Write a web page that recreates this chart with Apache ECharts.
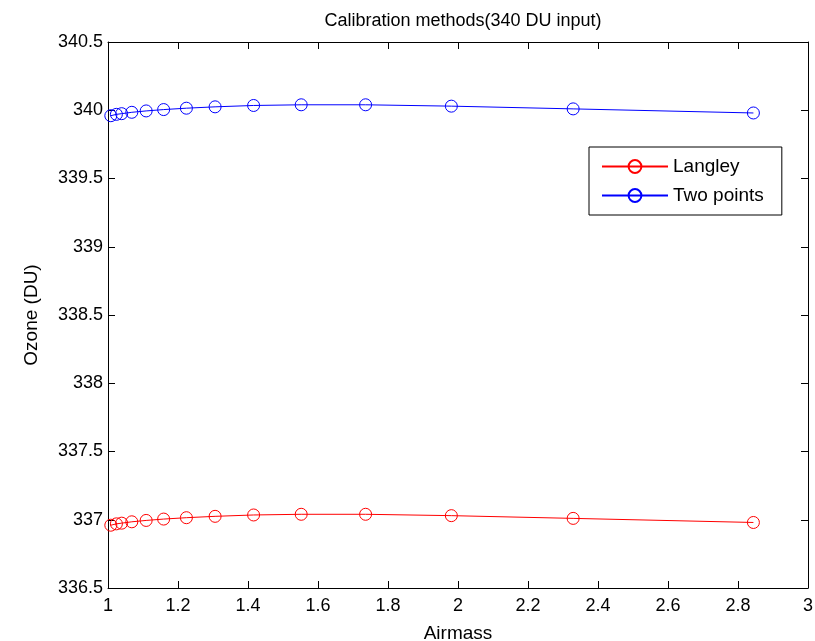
<!DOCTYPE html>
<html><head><meta charset="utf-8">
<script src="https://cdn.jsdelivr.net/npm/echarts@6/dist/echarts.min.js"></script>
<style>html,body{margin:0;padding:0;background:#fff}#c{width:815px;height:641px}</style>
</head><body><div id="c"></div>
<script>
const airmass = [1.008, 1.024, 1.039, 1.068, 1.109, 1.159, 1.224, 1.306, 1.416, 1.552, 1.736, 1.981, 2.329, 2.844];
const langley = [336.96, 336.97, 336.975, 336.985, 336.995, 337.005, 337.015, 337.025, 337.035, 337.04, 337.04, 337.03, 337.01, 336.98];
const twoPoints = [339.96, 339.97, 339.975, 339.985, 339.995, 340.005, 340.015, 340.025, 340.035, 340.04, 340.04, 340.03, 340.01, 339.98];
const seriesNames = ['Langley', 'Two points'];
const seriesColors = ['#ff0000', '#0000ff'];

const FONT = 'Liberation Sans, Arial, sans-serif';
const chart = echarts.init(document.getElementById('c'));
function mk(vals){ return airmass.map((x,i)=>[x, vals[i]]); }
const baseX = {type:'value', min:1, max:3, interval:0.2,
  axisLine:{show:true, onZero:false, lineStyle:{color:'#000', width:1}},
  axisTick:{show:true, inside:true, length:7, lineStyle:{color:'#000'}},
  splitLine:{show:false}};
const baseY = {type:'value', min:336.5, max:340.5, interval:0.5,
  axisLine:{show:true, onZero:false, lineStyle:{color:'#000', width:1}},
  axisTick:{show:true, inside:true, length:7, lineStyle:{color:'#000'}},
  splitLine:{show:false}};
chart.setOption({
  backgroundColor:'#fff',
  animation:false,
  title:{text:'Calibration methods(340 DU input)', left:458, top:7, textAlign:'center',
    textStyle:{fontFamily:FONT, fontSize:18, fontWeight:'normal', color:'#000'}},
  grid:{left:108, right:7, top:42, bottom:53, containLabel:false, outerBoundsMode:'none'},
  legend:{orient:'vertical', left:589, top:147, width:193, padding:[10,18,10,12],
    itemGap:10, itemWidth:66, itemHeight:16,
    backgroundColor:'#fff', borderColor:'#000', borderWidth:1,
    textStyle:{fontFamily:FONT, fontSize:19, color:'#000'},
    data:seriesNames},
  xAxis:[
    Object.assign({}, baseX, {position:'bottom', name:'Airmass', nameLocation:'middle', nameGap:36,
      nameTextStyle:{fontFamily:FONT, fontSize:19, color:'#000'},
      axisLabel:{fontFamily:FONT, fontSize:18, color:'#000', margin:9,
        formatter:v=>String(+v.toFixed(1))}}),
    Object.assign({}, baseX, {position:'top', axisLabel:{show:false}})
  ],
  yAxis:[
    Object.assign({}, baseY, {position:'left', name:'Ozone (DU)', nameLocation:'middle', nameGap:67,
      nameTextStyle:{fontFamily:FONT, fontSize:19, color:'#000'},
      axisLabel:{fontFamily:FONT, fontSize:18, color:'#000', margin:5,
        formatter:v=>String(+v.toFixed(1))}}),
    Object.assign({}, baseY, {position:'right', axisLabel:{show:false}})
  ],
  series:[
    {name:seriesNames[0], type:'line', data:mk(langley), symbol:'circle', symbolSize:12,
      lineStyle:{color:seriesColors[0], width:1},
      itemStyle:{color:'rgba(255,255,255,0)', borderColor:seriesColors[0], borderWidth:1}},
    {name:seriesNames[1], type:'line', data:mk(twoPoints), symbol:'circle', symbolSize:12,
      lineStyle:{color:seriesColors[1], width:1},
      itemStyle:{color:'rgba(255,255,255,0)', borderColor:seriesColors[1], borderWidth:1}}
  ]
});
</script></body></html>
